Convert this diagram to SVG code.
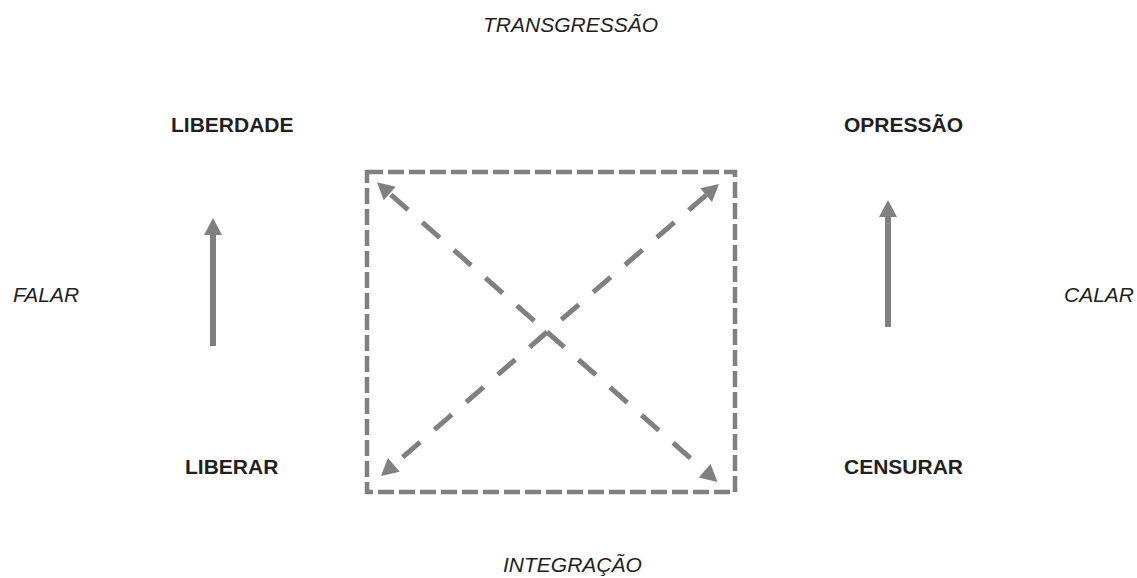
<svg xmlns="http://www.w3.org/2000/svg" width="1137" height="578" viewBox="0 0 1137 578">
<style>
.t{font-family:"Liberation Sans",Arial,sans-serif;font-size:21px;fill:#231f20}
.b{font-weight:bold}
.i{font-style:italic}
.box{fill:none;stroke:#808080;stroke-width:4.5;stroke-dasharray:16 5}
.d{fill:none;stroke:#808080;stroke-width:5;stroke-dasharray:23 19}
.v{fill:none;stroke:#808080;stroke-width:6}
</style>
<defs>
<marker id="ah" markerUnits="userSpaceOnUse" markerWidth="40" markerHeight="40" refX="0" refY="0" viewBox="-20 -20 40 40" orient="auto" overflow="visible">
<path d="M0,-9 L17,0 L0,9 z" fill="#808080"/>
</marker>
</defs>
<rect width="1137" height="578" fill="#fff"/>
<g id="n-transgressao"><text class="t i" x="483" y="32">TRANSGRESSÃO</text></g>
<g id="n-integracao"><text class="t i" x="503" y="572">INTEGRAÇÃO</text></g>
<g id="n-falar"><text class="t i" x="13" y="302">FALAR</text></g>
<g id="n-calar"><text class="t i" x="1064" y="302">CALAR</text></g>
<g id="n-liberdade"><text class="t b" x="171" y="132">LIBERDADE</text></g>
<g id="n-liberar"><text class="t b" x="185" y="474">LIBERAR</text></g>
<g id="n-opressao"><text class="t b" x="844" y="132">OPRESSÃO</text></g>
<g id="n-censurar"><text class="t b" x="844" y="474">CENSURAR</text></g>
<g id="n-box"><rect class="box" x="367" y="172" width="368" height="320"/></g>
<g id="connectors">
<line class="v" x1="213" y1="346" x2="213" y2="235" marker-end="url(#ah)"/>
<line class="v" x1="888" y1="327" x2="888" y2="217" marker-end="url(#ah)"/>
<line class="d" x1="547" y1="332" x2="389.7" y2="193.6" stroke-dashoffset="25" marker-end="url(#ah)"/>
<line class="d" x1="547" y1="332" x2="704.7" y2="470.8" marker-end="url(#ah)"/>
<line class="d" x1="547" y1="332" x2="393.8" y2="464.9" marker-end="url(#ah)"/>
<line class="d" x1="547" y1="332" x2="706.1" y2="195.1" stroke-dashoffset="23" marker-end="url(#ah)"/>
</g>
</svg>
